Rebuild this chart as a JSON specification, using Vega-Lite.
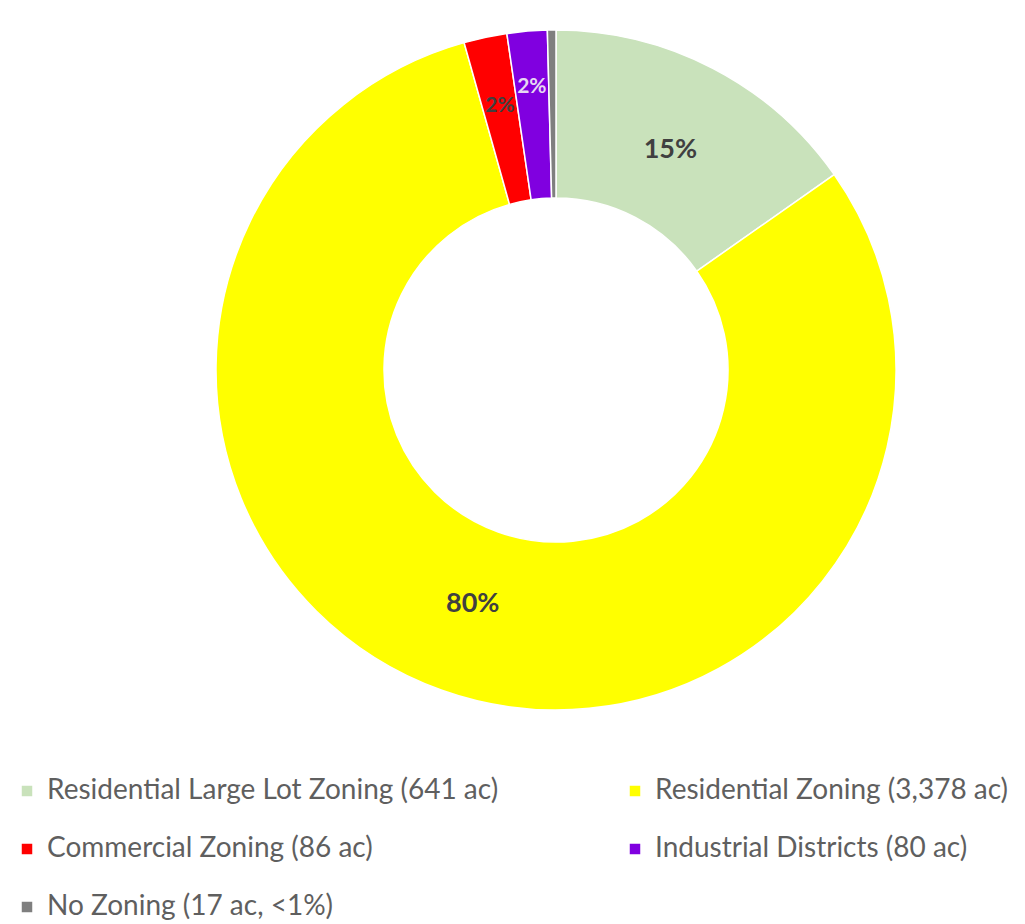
{
  "$schema": "https://vega.github.io/schema/vega-lite/v6.json",
  "width": 938,
  "height": 740,
  "autosize": "none",
  "padding": {"left": 87, "top": 0, "right": 0, "bottom": 184},
  "background": "white",
  "config": {"view": {"stroke": null}},
  "data": {"values": [
    {"zone": "Residential Large Lot Zoning (641 ac)", "acres": 641, "order": 1, "label": "15%"},
    {"zone": "Residential Zoning (3,378 ac)", "acres": 3378, "order": 2, "label": "80%"},
    {"zone": "Commercial Zoning (86 ac)", "acres": 86, "order": 3, "label": "2%"},
    {"zone": "Industrial Districts (80 ac)", "acres": 80, "order": 4, "label": "2%"},
    {"zone": "No Zoning (17 ac, <1%)", "acres": 17, "order": 5, "label": ""}
  ]},
  "encoding": {
    "theta": {"field": "acres", "type": "quantitative", "stack": true},
    "order": {"field": "order", "type": "quantitative"}
  },
  "layer": [
    {
      "mark": {"type": "arc", "outerRadius": 340, "innerRadius": 172, "stroke": "white", "strokeWidth": 1.5},
      "encoding": {
        "color": {
          "field": "zone", "type": "nominal",
          "scale": {
            "domain": ["Residential Large Lot Zoning (641 ac)", "Residential Zoning (3,378 ac)", "Commercial Zoning (86 ac)", "Industrial Districts (80 ac)", "No Zoning (17 ac, <1%)"],
            "range": ["#c9e2bb", "#ffff00", "#ff0000", "#8000e0", "#7f7f7f"]
          },
          "legend": {
            "title": null,
            "orient": "none",
            "direction": "horizontal",
            "legendX": -74,
            "legendY": 777,
            "columns": 2,
            "columnPadding": 122,
            "rowPadding": 30,
            "symbolType": "square",
            "symbolSize": 110,
            "symbolStrokeWidth": 0,
            "labelFont": "Lato",
            "labelFontSize": 28,
            "labelColor": "#5f5f5f",
            "labelLimit": 600,
            "labelOffset": 6
          }
        }
      }
    },
    {
      "mark": {"type": "text", "radius": 248, "font": "Lato", "fontSize": 27, "fontWeight": "bold", "color": "#404040"},
      "encoding": {
        "text": {"condition": {"test": "datum.order <= 2", "field": "label"}, "value": ""}
      }
    },
    {
      "mark": {"type": "text", "radius": 270, "font": "Lato", "fontSize": 21, "fontWeight": "bold", "color": "#404040"},
      "encoding": {
        "text": {"condition": {"test": "datum.order == 3", "field": "label"}, "value": ""}
      }
    },
    {
      "mark": {"type": "text", "radius": 284, "font": "Lato", "fontSize": 21, "fontWeight": "bold", "color": "#e6d8f2"},
      "encoding": {
        "text": {"condition": {"test": "datum.order == 4", "field": "label"}, "value": ""}
      }
    }
  ]
}
